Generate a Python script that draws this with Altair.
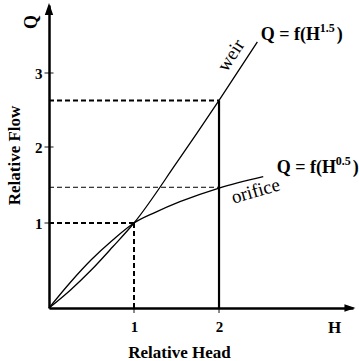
import altair as alt
import pandas as pd

# ---------------- data ----------------
weir_h = [0, 0.25, 0.5, 0.75, 1.0, 1.5, 2.0, 2.45]
weir_q = [0, 0.21, 0.45, 0.72, 1.0, 1.79, 2.63, 3.42]

orifice_h = [0, 0.25, 0.5, 0.75, 1.0, 1.25, 1.54, 2.0, 2.52]
orifice_q = [0, 0.30, 0.57, 0.80, 1.0, 1.14, 1.28, 1.46, 1.61]

x_ticks = [1, 2]
y_ticks = [1, 2, 3]

# reference (guide) lines
thick_dash_h = [1, 2]          # horizontal dashed lines from the Q axis to these H
thick_dash_q = [1.0, 2.63]     # at these Q
thin_dash_h = [2]
thin_dash_q = [1.47]
vdash_h = [1]                  # vertical dashed at H=1 up to Q=1
vdash_q = [1.0]
vsolid_h = [2]                 # vertical solid at H=2 up to weir
vsolid_q = [2.63]

# ---------------- scales / axes ----------------
FONT = "Liberation Serif"
xs = alt.Scale(domain=[0, 3.576], nice=False, zero=False)
# hand-drawn axis: tick spacing of the reference is not uniform
ys = alt.Scale(domain=[0, 1, 2, 3, 3.92], range=[303, 218, 142, 68, 0], nice=False, zero=False)

x_axis = alt.Axis(values=x_ticks, ticks=False, tickSize=0, grid=False, domainColor="black",
                  domainWidth=2.5, labelFont=FONT, labelFontSize=15, labelFontWeight="bold",
                  labelColor="black", labelPadding=11, title="Relative Head", titleFont=FONT,
                  titleFontSize=17, titleFontWeight="bold", titleColor="black",
                  titleX=130, titleY=49, titleAlign="center", titleBaseline="alphabetic",
                  titleAnchor="start")
y_axis = alt.Axis(values=y_ticks, ticks=False, tickSize=0, grid=False, domainColor="black",
                  domainWidth=2.5, labelFont=FONT, labelFontSize=15, labelFontWeight="bold",
                  labelColor="black", labelPadding=7, title="Relative Flow", titleFont=FONT,
                  titleFontSize=17, titleFontWeight="bold", titleColor="black",
                  titleX=-35, titleY=150, titleAngle=270, titleAlign="center",
                  titleBaseline="middle", titleAnchor="start")


def X(f):
    return alt.X(f, type="quantitative", scale=xs, axis=x_axis)


def Y(f):
    return alt.Y(f, type="quantitative", scale=ys, axis=y_axis)


curves = pd.concat([
    pd.DataFrame({"H": weir_h, "Q": weir_q, "s": "weir"}),
    pd.DataFrame({"H": orifice_h, "Q": orifice_q, "s": "orifice"}),
])

curve_layer = alt.Chart(curves).mark_line(color="black", strokeWidth=1.3, interpolate="monotone").encode(
    x=X("H"), y=Y("Q"), detail="s:N")

hdash = alt.Chart(pd.DataFrame({"h0": [0] * len(thick_dash_h), "H": thick_dash_h, "Q": thick_dash_q})).mark_rule(
    color="black", strokeWidth=2, strokeDash=[5, 3]).encode(x=X("h0"), x2="H", y=Y("Q"))
hdash_thin = alt.Chart(pd.DataFrame({"h0": [0] * len(thin_dash_h), "H": thin_dash_h, "Q": thin_dash_q})).mark_rule(
    color="black", strokeWidth=1, strokeDash=[5, 3]).encode(x=X("h0"), x2="H", y=Y("Q"))
vdash = alt.Chart(pd.DataFrame({"H": vdash_h, "q0": [0] * len(vdash_h), "Q": vdash_q})).mark_rule(
    color="black", strokeWidth=2, strokeDash=[5, 3]).encode(x=X("H"), y=Y("q0"), y2="Q")
vsolid = alt.Chart(pd.DataFrame({"H": vsolid_h, "q0": [0] * len(vsolid_h), "Q": vsolid_q})).mark_rule(
    color="black", strokeWidth=2.2).encode(x=X("H"), y=Y("q0"), y2="Q")

# axis tick marks crossing the axes
xt = alt.Chart(pd.DataFrame({"H": x_ticks, "Q": [0] * len(x_ticks)})).mark_tick(
    orient="vertical", size=10, thickness=1.3, color="black").encode(x=X("H"), y=Y("Q"))
yt = alt.Chart(pd.DataFrame({"H": [0] * len(y_ticks), "Q": y_ticks})).mark_tick(
    orient="horizontal", size=9, thickness=1.3, color="black").encode(x=X("H"), y=Y("Q"))

# arrow heads
arr_x = alt.Chart(pd.DataFrame({"H": [3.54], "Q": [0]})).mark_point(
    shape="M-1,-0.7L1,0L-1,0.7Z", size=121, filled=True, color="black", opacity=1).encode(x=X("H"), y=Y("Q"))
arr_y = alt.Chart(pd.DataFrame({"H": [0], "Q": [3.865]})).mark_point(
    shape="M-0.7,1L0,-1L0.7,1Z", size=144, filled=True, color="black", opacity=1).encode(x=X("H"), y=Y("Q"))


def label(text, h, q, size, weight="bold", angle=None, align="center", baseline="middle", dx=0, dy=0):
    kw = dict(text=text, font=FONT, fontSize=size, fontWeight=weight, color="black",
              align=align, baseline=baseline, dx=dx, dy=dy)
    if angle is not None:
        kw["angle"] = angle
    return alt.Chart(pd.DataFrame({"H": [h], "Q": [q]})).mark_text(**kw).encode(x=X("H"), y=Y("Q"))


texts = [
    label("H", 3.36, 0, 17, dy=20),
    label("Q", 0, 3.69, 18, angle=270, dy=-17),
    label("Q = f(H", 2.49, 3.45, 18, align="left", baseline="alphabetic"),
    label("1.5", 2.49, 3.45, 12, align="left", baseline="alphabetic", dx=59, dy=-8),
    label(")", 2.49, 3.45, 18, align="left", baseline="alphabetic", dx=76),
    label("Q = f(H", 2.68, 1.66, 18, align="left", baseline="alphabetic"),
    label("0.5", 2.68, 1.66, 12, align="left", baseline="alphabetic", dx=59, dy=-8),
    label(")", 2.68, 1.66, 18, align="left", baseline="alphabetic", dx=76),
    label("weir", 2.14, 3.24, 19, weight="normal", angle=303),
    label("orifice", 2.43, 1.42, 19, weight="normal", angle=344),
]

chart = alt.layer(
    hdash, hdash_thin, vdash, vsolid, curve_layer, xt, yt, arr_x, arr_y, *texts
).properties(
    width=304, height=303,
    autosize=alt.AutoSizeParams(type="none"),
    padding={"left": 49, "top": 5, "right": 6, "bottom": 53},
    background="white",
).configure_view(stroke=None)

chart.save("out.html", embed_options={"renderer": "svg", "actions": False})
